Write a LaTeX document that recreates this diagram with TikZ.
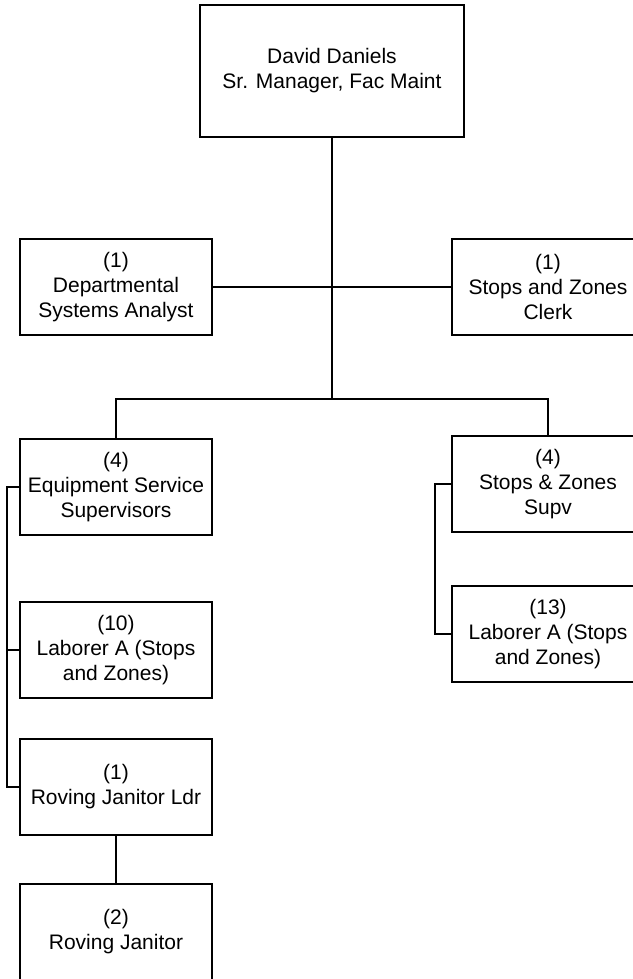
\documentclass[tikz,border=0pt]{standalone}
\usepackage{fontspec}
\setmainfont{Liberation Sans}
\usetikzlibrary{positioning}

\begin{document}
\begin{tikzpicture}[x=1pt,y=-1pt,line width=1.9pt,
every node/.style={rectangle,draw,align=center,inner sep=0pt,
minimum width=192pt,minimum height=96pt,
font=\fontsize{21}{25}\selectfont}]
\useasboundingbox (0,0) rectangle (632,979);

\node[minimum width=264pt,minimum height=132pt]
(A1) at (332,71) {David Daniels\\Sr. Manager, Fac Maint};
\node (A2) at (116,287) {(1)\\Departmental\\Systems Analyst};
\node (A3) at (548,287) {(1)\\Stops and Zones\\Clerk};
\node (A4) at (116,487) {(4)\\Equipment Service\\Supervisors};
\node (A5) at (548,484) {(4)\\Stops \& Zones\\Supv};
\node (A6) at (116,650) {(10)\\Laborer A (Stops\\and Zones)};
\node (A7) at (548,634) {(13)\\Laborer A (Stops\\and Zones)};
\node (A8) at (116,787) {(1)\\Roving Janitor Ldr};
\node (A9) at (116,932) {(2)\\Roving Janitor};
\coordinate (H) at (332,399);

\draw (A1)--(H);
\draw (A2)--(A3);
\draw (A4.north) |- (H) -| (A5.north);
\draw (A4.west)--++(-12,0) |- (A6.west);
\draw (A4.west)++(-12,0) |- (A8.west);
\draw (A5.west)--++(-16,0) |- (A7.west);
\draw (A8)--(A9);
\end{tikzpicture}
\end{document}
